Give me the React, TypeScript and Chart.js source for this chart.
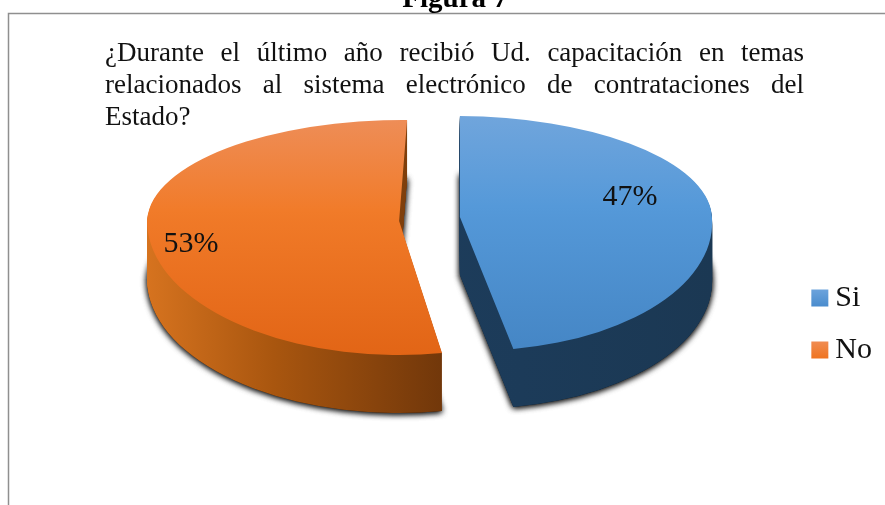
import React, { useEffect, useRef } from "react";
import { Chart, registerables } from "chart.js";

Chart.register(...registerables);

const categories = ["Si", "No"];
const values = [47, 53];
const percentLabels = ["47%", "53%"];
const baseColors = ["#5398d8", "#f07a28"];
const faceStops = [
  ["#70a5dc", "#5599d9", "#4586c5"],
  ["#ee8d57", "#f17b29", "#e26516"],
];
const wallStops = [
  ["#1f4060", "#1c3b59", "#1b3853"],
  ["#d6731f", "#a9560f", "#6f360a"],
];
const legendStops = [
  ["#6ca3dc", "#4a8ccd"],
  ["#f08c52", "#ef7420"],
];
const titleLines = [
  "¿Durante el último año recibió Ud. capacitación en temas",
  "relacionados al sistema electrónico de contrataciones del",
];
const titleLastLine = "Estado?";
const figureCaption = "Figura 7";
// label placement as fractions of each slice's radii, measured from its apex
const labelFractions = [
  [0.675, -0.2],
  [-0.826, 0.17],
];
// perspective lean of each slice's upper and lower half (x shift per y)
const sliceShear = [
  [0.044, 0.08],
  [-0.036, 0],
];

const SERIF = '"Liberation Serif", "Times New Roman", serif';
const CX = 429.5;
const CY = 219;
const RX = 252;
const RY_UP = 101;
const RY_DOWN = 134;
const DEPTH = 58;
const EXPLODE = 30.5;
const SWATCH = 17;
const SWATCH_SHIFT = 8;

function drawPiece(ctx: any, arc: any, fill: any, dy: number, g: any, shadow: boolean) {
  const saved = arc.options;
  arc.options = { ...saved, backgroundColor: fill, borderWidth: 0 };
  for (const up of [true, false]) {
    ctx.save();
    ctx.beginPath();
    if (up) ctx.rect(0, -50, 885, g.devY + dy + 50);
    else ctx.rect(0, g.devY + dy, 885, 700);
    ctx.clip();
    if (shadow) {
      ctx.shadowColor = "rgba(0,0,0,0.85)";
      ctx.shadowBlur = 6;
      ctx.shadowOffsetY = 1;
    }
    ctx.translate(g.devX, g.devY + dy);
    ctx.transform(1, 0, up ? g.shear[0] : g.shear[1], 1, 0, 0);
    ctx.scale(g.sx, (up ? RY_UP : RY_DOWN) / g.r);
    ctx.translate(-arc.x, -arc.y);
    arc.draw(ctx);
    ctx.restore();
  }
  arc.options = saved;
}

function geometry(arc: any, i: number) {
  const mid = (arc.startAngle + arc.endAngle) / 2;
  const r = arc.outerRadius;
  const sx = RX / r;
  const devX = CX + Math.cos(mid) * EXPLODE;
  const devY = Math.round(CY + Math.sin(mid) * EXPLODE);
  return { r, sx, devX, devY, shear: sliceShear[i] };
}

const pie3d = {
  id: "pie3d",
  beforeDraw(chart: any) {
    const ctx = chart.ctx;
    ctx.save();
    ctx.strokeStyle = "#8f8f8f";
    ctx.lineWidth = 1.5;
    ctx.beginPath();
    ctx.moveTo(8.5, 520);
    ctx.lineTo(8.5, 13.5);
    ctx.lineTo(890, 13.5);
    ctx.stroke();
    ctx.restore();
  },
  beforeDatasetDraw(chart: any, args: any) {
    const ctx = chart.ctx;
    const arcs = chart.getDatasetMeta(args.index).data;
    const geos = arcs.map(geometry);
    arcs.forEach((arc: any, i: number) => {
      const g = geos[i];
      const wall = ctx.createLinearGradient(arc.x - g.r, 0, arc.x + g.r, 0);
      const stops = wallStops[i];
      if (i === 0) {
        wall.addColorStop(0, stops[0]);
        wall.addColorStop(0.6, stops[1]);
        wall.addColorStop(1, stops[2]);
      } else {
        wall.addColorStop(0, stops[0]);
        wall.addColorStop(0.25, stops[1]);
        wall.addColorStop(0.6, stops[2]);
        wall.addColorStop(1, stops[2]);
      }
      drawPiece(ctx, arc, wall, DEPTH, g, true);
      drawPiece(ctx, arc, wall, DEPTH, g, true);
      for (let d = DEPTH - 1; d >= 1; d--) drawPiece(ctx, arc, wall, d, g, false);
    });
    arcs.forEach((arc: any, i: number) => {
      const g = geos[i];
      const face = ctx.createLinearGradient(0, arc.y - g.r, 0, arc.y + g.r);
      face.addColorStop(0, faceStops[i][0]);
      face.addColorStop(0.45, faceStops[i][1]);
      face.addColorStop(1, faceStops[i][2]);
      drawPiece(ctx, arc, face, 0, g, false);
    });
    return false;
  },
  afterDatasetsDraw(chart: any) {
    const ctx = chart.ctx;
    const arcs = chart.getDatasetMeta(0).data;
    ctx.save();
    ctx.font = `30px ${SERIF}`;
    ctx.fillStyle = "#111111";
    ctx.textAlign = "center";
    ctx.textBaseline = "middle";
    arcs.forEach((arc: any, i: number) => {
      const g = geometry(arc, i);
      const [fx, fy] = labelFractions[i];
      const x = g.devX + fx * RX;
      const y = g.devY + fy * (fy < 0 ? RY_UP : RY_DOWN);
      ctx.fillText(percentLabels[i], x, y);
    });
    ctx.restore();
  },
  afterDraw(chart: any) {
    // swatches sit closer to their text than the legend's own box spacing allows
    const ctx = chart.ctx;
    const boxes = chart.legend?.legendHitBoxes || [];
    boxes.forEach((hit: any, i: number) => {
      const x = hit.left + SWATCH_SHIFT;
      const y = hit.top + (hit.height - SWATCH) / 2;
      const grad = ctx.createLinearGradient(0, y, 0, y + SWATCH);
      grad.addColorStop(0, legendStops[i][0]);
      grad.addColorStop(1, legendStops[i][1]);
      ctx.fillStyle = grad;
      ctx.fillRect(x, y, SWATCH, SWATCH);
    });
  },
};

export default function App() {
  const ref = useRef<HTMLCanvasElement>(null);
  useEffect(() => {
    const canvas = ref.current!;
    const chart = new Chart(canvas, {
      type: "pie",
      data: {
        labels: categories,
        datasets: [
          {
            data: values,
            backgroundColor: baseColors,
            borderWidth: 0,
            offset: 0,
          },
        ],
      },
      plugins: [pie3d],
      options: {
        responsive: false,
        animation: false,
        devicePixelRatio: 1,
        rotation: 1,
        radius: 100,
        layout: { padding: { top: 143, right: 3, bottom: 0, left: 0 } },
        plugins: {
          title: { display: false },
          tooltip: { enabled: false },
          legend: {
            display: true,
            position: "right",
            labels: {
              font: { family: SERIF, size: 30 },
              color: "#111111",
              boxWidth: SWATCH,
              boxHeight: SWATCH,
              padding: 22,
              generateLabels() {
                return categories.map((text, i) => ({
                  text,
                  fillStyle: "rgba(0,0,0,0)",
                  strokeStyle: "rgba(0,0,0,0)",
                  lineWidth: 0,
                  fontColor: "#111111",
                  hidden: false,
                  index: i,
                }));
              },
            },
          },
        },
      },
    } as any);
    return () => chart.destroy();
  }, []);

  const lineStyle: React.CSSProperties = {
    position: "absolute",
    left: 105,
    width: 699,
    height: 32,
    lineHeight: "32px",
    fontFamily: SERIF,
    fontSize: 27,
    color: "#111111",
    whiteSpace: "nowrap",
  };

  return (
    <div style={{ position: "fixed", left: 0, top: 0, width: 885, height: 505, overflow: "hidden", background: "#fff" }}>
      <canvas ref={ref} width={885} height={505} style={{ position: "absolute", left: 0, top: 0, width: 885, height: 505 }} />
      <div
        style={{
          position: "absolute",
          left: 300,
          width: 310,
          top: -17,
          textAlign: "center",
          fontFamily: SERIF,
          fontWeight: "bold",
          fontSize: 29,
          lineHeight: "28px",
          color: "#000",
        }}
      >
        {figureCaption}
      </div>
      {titleLines.map((t, i) => (
        <div key={t} style={{ ...lineStyle, top: 36 + i * 32, textAlign: "justify", textAlignLast: "justify", whiteSpace: "normal" }}>
          {t}
        </div>
      ))}
      <div style={{ ...lineStyle, top: 100 }}>{titleLastLine}</div>
    </div>
  );
}
